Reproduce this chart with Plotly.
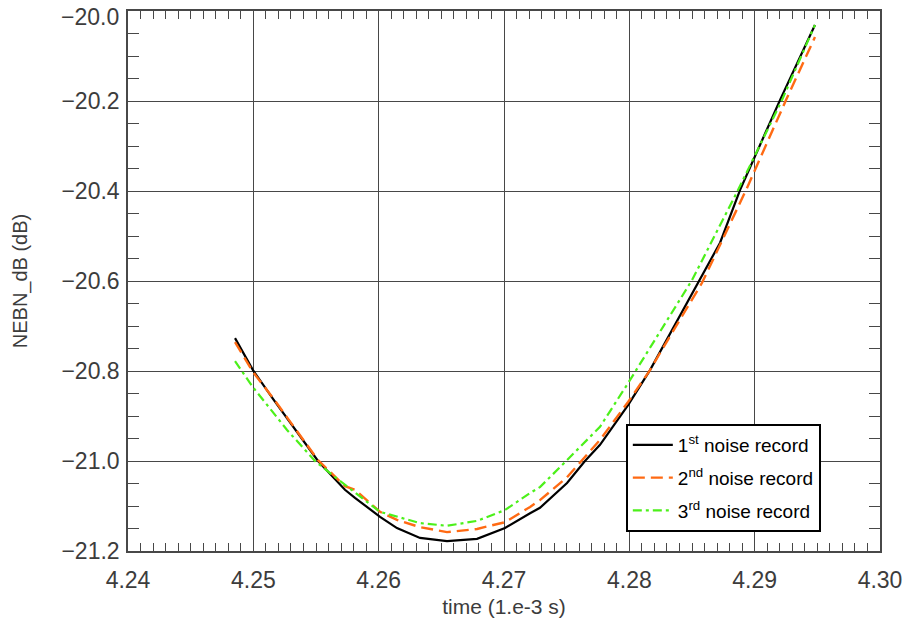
import plotly.graph_objects as go

# time axis (1.e-3 s) and NEBN_dB values
x_first = [4.24854, 4.24997, 4.25157, 4.25516, 4.25731, 4.25811, 4.26011, 4.26146, 4.26330,
           4.26545, 4.26785, 4.27008, 4.27208, 4.27287, 4.27503, 4.27646, 4.27766, 4.27990,
           4.28165, 4.28564, 4.28724, 4.28883, 4.29202, 4.29481]
y_first = [-20.727, -20.798, -20.862, -21.000, -21.064, -21.082, -21.124, -21.149, -21.171,
           -21.178, -21.173, -21.149, -21.116, -21.104, -21.049, -21.000, -20.964, -20.876,
           -20.798, -20.598, -20.515, -20.398, -20.198, -20.031]

x_second = [4.24854, 4.24997, 4.25157, 4.25516, 4.25731, 4.25811, 4.26011, 4.26146, 4.26330,
            4.26545, 4.26785, 4.27008, 4.27208, 4.27287, 4.27503, 4.27766, 4.27990, 4.28165,
            4.28245, 4.28580, 4.28931, 4.29250, 4.29481]
y_second = [-20.736, -20.802, -20.860, -20.998, -21.056, -21.064, -21.113, -21.131, -21.147,
            -21.158, -21.151, -21.136, -21.102, -21.087, -21.036, -20.953, -20.869, -20.798,
            -20.760, -20.604, -20.398, -20.198, -20.058]

x_third = [4.24854, 4.24997, 4.25269, 4.25492, 4.25612, 4.26011, 4.26330, 4.26545, 4.26785,
           4.27008, 4.27208, 4.27287, 4.27503, 4.27766, 4.27990, 4.28205, 4.28500, 4.28867,
           4.29218, 4.29481]
y_third = [-20.778, -20.836, -20.931, -21.000, -21.027, -21.113, -21.138, -21.144, -21.133,
           -21.109, -21.071, -21.058, -20.998, -20.924, -20.827, -20.731, -20.598, -20.398,
           -20.198, -20.031]

names = ["1<sup>st</sup> noise record", "2<sup>nd</sup> noise record", "3<sup>rd</sup> noise record"]

x_ticks = [4.24, 4.25, 4.26, 4.27, 4.28, 4.29, 4.30]
x_labels = ["4.24", "4.25", "4.26", "4.27", "4.28", "4.29", "4.30"]
y_ticks = [-21.2, -21.0, -20.8, -20.6, -20.4, -20.2, -20.0]
y_labels = ["\u221221.2", "\u221221.0", "\u221220.8", "\u221220.6", "\u221220.4", "\u221220.2", "\u221220.0"]

FONT = "Liberation Sans, Arial, sans-serif"
TICKFONT = dict(family=FONT, size=23, color="#3c3c3c")

fig = go.Figure()
fig.add_trace(go.Scatter(x=x_first, y=y_first, mode="lines", name=names[0], legendgroup="a",
                         line=dict(color="black", width=2.2)))
fig.add_trace(go.Scatter(x=x_second, y=y_second, mode="lines", name=names[1], legendgroup="b",
                         line=dict(color="#FF6A13", width=2.4, dash="12px,6px")))
fig.add_trace(go.Scatter(x=x_third, y=y_third, mode="lines", name=names[2], legendgroup="c",
                         line=dict(color="#4CF01A", width=2.2, dash="9px,4px,3px,4px")))

axis_common = dict(
    showgrid=True, gridcolor="#484848", gridwidth=1.3,
    showline=True, linecolor="#484848", linewidth=1.5, mirror="ticks",
    ticks="inside", tickcolor="#484848", ticklen=1,
    zeroline=False, automargin=False, ticklabeloverflow="allow",
    tickfont=TICKFONT,
)

# the topmost y label sits just below its grid line (as in the reference), so it is drawn as an annotation
y_axis_text = [("" if v == y_ticks[-1] else t) for v, t in zip(y_ticks, y_labels)]

fig.update_xaxes(
    **axis_common,
    range=[4.24, 4.30],
    tickvals=x_ticks, ticktext=x_labels,
    ticklabelstandoff=8,
    minor=dict(ticks="inside", ticklen=8, tickcolor="#484848", tickwidth=1.3, dtick=0.001, showgrid=False),
    title=dict(text="time (1.e-3 s)", font=dict(family=FONT, size=21, color="#3c3c3c"), standoff=7),
)
fig.update_yaxes(
    **axis_common,
    range=[-21.2, -20.0],
    tickvals=y_ticks, ticktext=y_axis_text,
    ticklabelstandoff=2,
    minor=dict(ticks="inside", ticklen=11, tickcolor="#484848", tickwidth=1.3, dtick=0.05, showgrid=False),
    title=dict(text="NEBN_dB (dB)", font=dict(family=FONT, size=20, color="#3c3c3c"), standoff=28),
)

fig.add_annotation(
    text=y_labels[-1], xref="paper", x=0, yref="y", y=y_ticks[-1],
    xanchor="right", yanchor="middle", xshift=-8, yshift=-6,
    showarrow=False, font=TICKFONT, borderpad=0,
)

fig.update_layout(
    width=909, height=624,
    margin=dict(l=128, r=29, t=11, b=73),
    plot_bgcolor="white", paper_bgcolor="white",
    legend=dict(
        x=0.662, y=0.235, xanchor="left", yanchor="top",
        bgcolor="white", bordercolor="black", borderwidth=2,
        font=dict(family=FONT, size=19, color="black"),
        tracegroupgap=5, itemwidth=40,
    ),
    showlegend=True,
)

fig.write_html("out.html", config={"displayModeBar": False},
               post_script="document.body.style.margin='0px';")
